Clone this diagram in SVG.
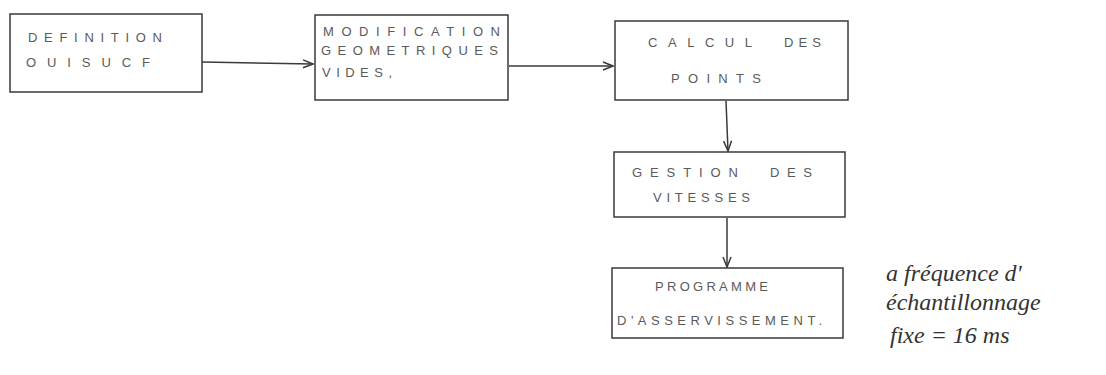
<svg xmlns="http://www.w3.org/2000/svg" width="1106" height="375" viewBox="0 0 1106 375">
<defs>
<style>
.box{fill:none;stroke:#3a3a3a;stroke-width:1.5}
.lbl{font-family:"Liberation Sans",sans-serif;font-size:13px;fill:#5a5a5a}
.note{font-family:"Liberation Serif",serif;font-style:italic;font-size:24px;fill:#333}
.con{stroke:#3a3a3a;stroke-width:1.5;fill:none}
</style>
<marker id="arr" markerWidth="12" markerHeight="10" refX="11" refY="5" orient="auto" markerUnits="userSpaceOnUse">
<path d="M1,1 L11,5 L1,9" fill="none" stroke="#3a3a3a" stroke-width="1.5"/>
</marker>
</defs>
<rect width="1106" height="375" fill="#fff"/>
<g id="connectors">
<line class="con" x1="202" y1="62" x2="313" y2="64" marker-end="url(#arr)"/>
<line class="con" x1="509" y1="66" x2="613" y2="66" marker-end="url(#arr)"/>
<line class="con" x1="726" y1="101" x2="728" y2="151" marker-end="url(#arr)"/>
<line class="con" x1="727" y1="218" x2="727" y2="267" marker-end="url(#arr)"/>
</g>
<g id="n1">
<rect class="box" x="10" y="14" width="192" height="78"/>
<text class="lbl" x="28" y="42" textLength="134">DEFINITION</text>
<text class="lbl" x="26" y="67" textLength="124">OUISUCF</text>
</g>
<g id="n2">
<rect class="box" x="315" y="15" width="193" height="85"/>
<text class="lbl" x="323" y="36" textLength="177">MODIFICATION</text>
<text class="lbl" x="321" y="55" textLength="177">GEOMETRIQUES</text>
<text class="lbl" x="322" y="77" textLength="70">VIDES,</text>
</g>
<g id="n3">
<rect class="box" x="615" y="21" width="233" height="79"/>
<text class="lbl" x="648" y="47" textLength="104">CALCUL</text>
<text class="lbl" x="784" y="47" textLength="37">DES</text>
<text class="lbl" x="671" y="83" textLength="90">POINTS</text>
</g>
<g id="n4">
<rect class="box" x="614" y="152" width="231" height="65"/>
<text class="lbl" x="632" y="177" textLength="106">GESTION</text>
<text class="lbl" x="770" y="177" textLength="42">DES</text>
<text class="lbl" x="653" y="202" textLength="97">VITESSES</text>
</g>
<g id="n5">
<rect class="box" x="612" y="268" width="231" height="70"/>
<text class="lbl" x="655" y="291" textLength="113">PROGRAMME</text>
<text class="lbl" x="617" y="325" textLength="205">D'ASSERVISSEMENT.</text>
</g>
<g id="note">
<text class="note" x="886" y="281">a fréquence d'</text>
<text class="note" x="886" y="310">échantillonnage</text>
<text class="note" x="890" y="343">fixe = 16 ms</text>
</g>
</svg>
